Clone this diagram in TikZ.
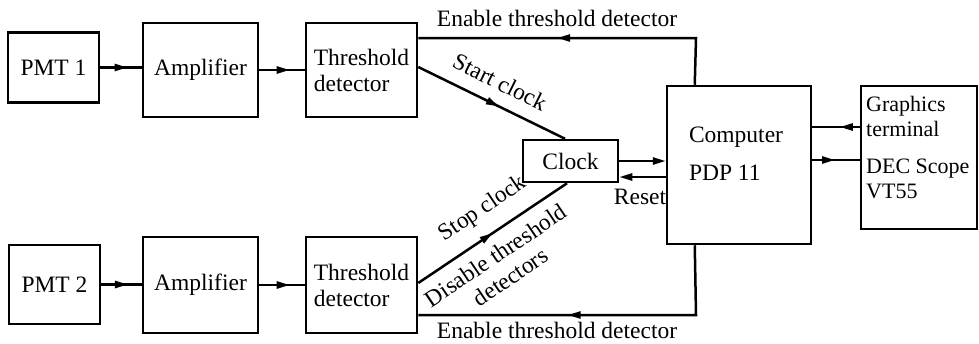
\documentclass[tikz,border=0pt]{standalone}
\usepackage{fontspec}
\setmainfont{Liberation Serif}
\usetikzlibrary{arrows.meta,decorations.markings,calc}
\begin{document}
\begin{tikzpicture}[x=1pt,y=-1pt,
  box/.style={draw, line width=2.5pt, inner sep=0pt, font=\fontsize{23.5}{26}\selectfont, align=center},
  lbl/.style={font=\fontsize{23.5}{26}\selectfont, inner sep=0pt, align=center},
  conn/.style={line width=2.5pt},
  tip/.style={-{Triangle[length=13pt,width=7pt]}},
  midarrow/.style={postaction={decorate}, decoration={markings, mark=at position #1 with {\arrow{Triangle[length=13pt,width=7pt]}}}},
]
\useasboundingbox (0,0) rectangle (979,343);

% boxes
\node[box, minimum width=91pt, minimum height=70pt] (pmt1) at (53.5,67.5) {PMT 1};
\node[box, minimum width=115pt, minimum height=94pt] (amp1) at (200.5,70) {Amplifier};
\node[box, minimum width=111pt, minimum height=94pt, align=left] (td1) at (361.5,70) {Threshold\\detector};
\node[box, minimum width=91pt, minimum height=79pt] (pmt2) at (54.5,284.5) {PMT 2};
\node[box, minimum width=115pt, minimum height=96pt] (amp2) at (200.5,285) {Amplifier};
\node[box, minimum width=111pt, minimum height=96pt, align=left] (td2) at (361.5,285) {Threshold\\detector};
\node[box, minimum width=95pt, minimum height=42pt] (clock) at (570.5,161) {Clock};
\node[box, minimum width=144pt, minimum height=158pt] (computer) at (739,165) {};
\node[lbl, align=left] (comptxt) at (736,154) {Computer\\[12pt]PDP 11};
\node[box, minimum width=116pt, minimum height=143pt] (graphics) at (919,157.5) {};
\node[lbl, align=left, anchor=west, font=\fontsize{22}{25}\selectfont] (gtxt) at (866,148) {Graphics\\terminal\\[12pt]DEC Scope\\VT55};

% signal chain
\draw[conn, midarrow=0.66] (pmt1.east) -- (pmt1.east -| amp1.west);
\draw[conn, midarrow=0.67] (amp1.east) -- (amp1.east -| td1.west);
\draw[conn, midarrow=0.66] (pmt2.east) -- (pmt2.east -| amp2.west);
\draw[conn, midarrow=0.67] (amp2.east) -- (amp2.east -| td2.west);

% enable lines
\coordinate (ctop) at ($(computer.north west)+(29,0)$);
\coordinate (etop) at (696,38);
\draw[conn, midarrow=0.572] (ctop) -- (etop) -- (etop -| td1.east);
\coordinate (cbot) at ($(computer.south west)+(29,0)$);
\coordinate (ebot) at (696,315);
\draw[conn, midarrow=0.57] (cbot) -- (ebot) -- (ebot -| td2.east);

% start / stop clock
\draw[conn, midarrow=0.55] ([yshift=3pt]td1.east) -- ([xshift=-5.5pt]clock.north);
\draw[conn, midarrow=0.5] ([yshift=2pt]td2.east) -- ([xshift=-3.5pt]clock.south);

% clock <-> computer
\draw[conn, tip] (clock.east) -- (clock.east -| computer.west);
\coordinate (rs) at ([yshift=-16pt]clock.east);
\draw[conn, tip] (rs -| computer.west) -- (rs);

% computer <-> graphics
\coordinate (g1) at ([yshift=30.5pt]graphics.west);
\draw[conn, midarrow=0.42] (g1) -- (g1 -| computer.east);
\coordinate (g2) at ([yshift=-2.5pt]graphics.west);
\draw[conn, midarrow=0.48] (g2 -| computer.east) -- (g2);

% labels
\node[lbl] (entop) at (557,18.5) {Enable threshold detector};
\node[lbl] (enbot) at (557,330) {Enable threshold detector};
\node[lbl, rotate=-26.3] (startl) at (500,82) {Start clock};
\node[lbl, rotate=34] (stopl) at (483,209) {Stop clock};
\node[lbl, rotate=34] (disl) at (503,266) {Disable threshold\\detectors};
\node[lbl] (resetl) at (640,197) {Reset};
\end{tikzpicture}
\end{document}
